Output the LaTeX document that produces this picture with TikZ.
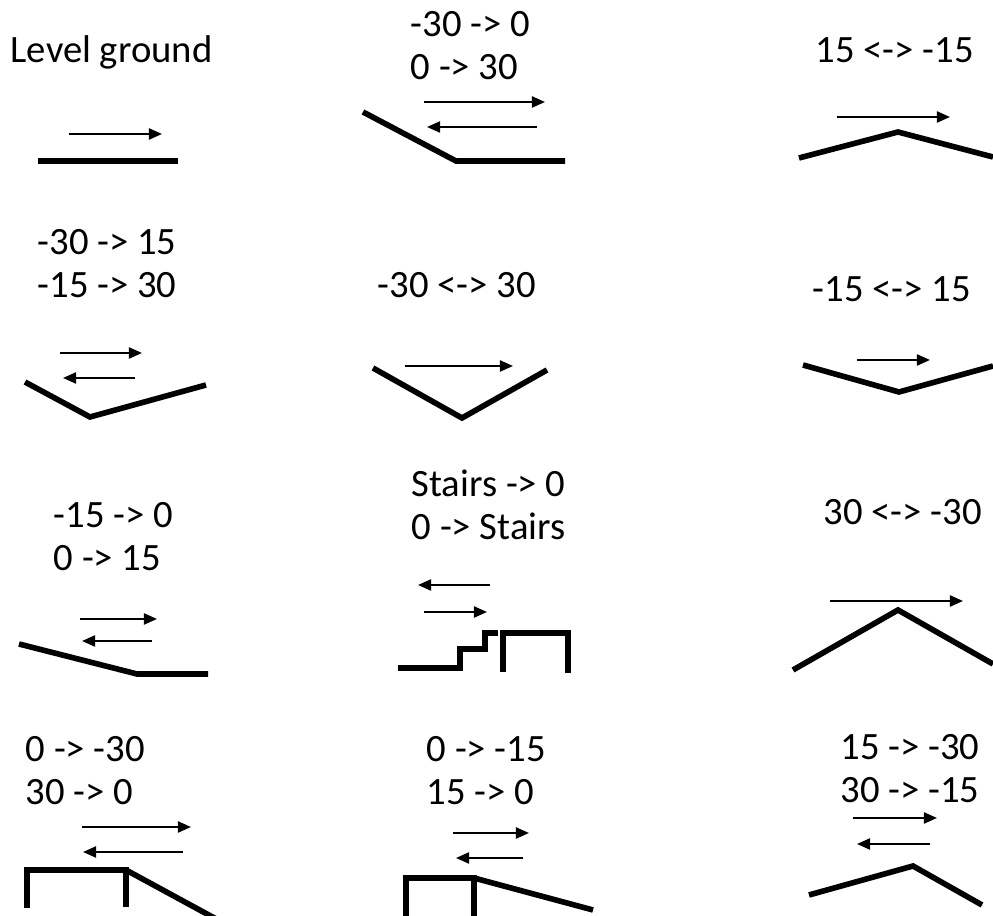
\documentclass[tikz,border=0pt]{standalone}
\usepackage{fontspec}
\setmainfont{Carlito}
\usetikzlibrary{arrows.meta}

\begin{document}
\begin{tikzpicture}[x=0.01cm, y=-0.01cm, >={Triangle[length=1.3mm, width=1.1mm]}, every node/.style={font=\fontsize{11}{12.5}\selectfont, inner sep=0pt, align=left, anchor=base west}, ground/.style={line width=1.6pt, line join=miter}, walk/.style={->, line width=0.6pt}]
  \useasboundingbox (0,0) rectangle (993,916);
  % first row
  \node (level) at (10,63) {Level ground};
  \draw[walk] (69,134) -- (162,134);
  \draw[ground] (38,161) -- (178,161);
  \node (down30) at (410,80) {-30 -> 0\\0 -> 30};
  \draw[walk] (424,102) -- (545,102);
  \draw[walk] (537,127) -- (427,127);
  \draw[ground] (363,112) -- (456,161) -- (565,161);
  \node (peak15) at (815,63) {15 <-> -15};
  \draw[walk] (837,117) -- (950,117);
  \draw[ground] (799,158) -- (898,132) -- (993,157);
  % second row
  \node (valley3015) at (37,298) {-30 -> 15\\-15 -> 30};
  \draw[walk] (60,353) -- (142,353);
  \draw[walk] (135,378) -- (63,378);
  \draw[ground] (25,382) -- (90,417) -- (206,385);
  \node (valley30) at (377,298) {-30 <-> 30};
  \draw[walk] (405,366) -- (513,366);
  \draw[ground] (373,368) -- (462,418) -- (547,370);
  \node (valley15) at (812,302) {-15 <-> 15};
  \draw[walk] (857,360) -- (930,360);
  \draw[ground] (803,365) -- (899,392) -- (993,366);
  % third row
  \node (down15) at (53,571) {-15 -> 0\\0 -> 15};
  \draw[walk] (80,619) -- (157,619);
  \draw[walk] (152,641) -- (82,641);
  \draw[ground] (19,644) -- (137,674) -- (208,674);
  \node (stairs) at (411,540) {Stairs -> 0\\0 -> Stairs};
  \draw[walk] (490,585) -- (418,585);
  \draw[walk] (424,612) -- (487,612);
  \draw[ground] (398,668) -- (460,668) -- (460,649) -- (485,649) -- (485,633) -- (498,633);
  \draw[ground] (503,672) -- (503,633) -- (568,633) -- (568,673);
  \node (peak30) at (823,525) {30 <-> -30};
  \draw[walk] (830,601) -- (963,601);
  \draw[ground] (793,670) -- (898,610) -- (993,664);
  % fourth row
  \node (step30) at (25,805) {0 -> -30\\30 -> 0};
  \draw[walk] (82,827) -- (191,827);
  \draw[walk] (183,852) -- (83,852);
  \draw[ground] (27,908) -- (27,870) -- (126,870) -- (126,907);
  \draw[ground] (126,870) -- (218,920);
  \node (step15) at (426,805) {0 -> -15\\15 -> 0};
  \draw[walk] (453,833) -- (529,833);
  \draw[walk] (523,858) -- (456,858);
  \draw[ground] (406,920) -- (406,878) -- (474,878) -- (474,920);
  \draw[ground] (474,878) -- (593,910);
  \node (peak1530) at (840,803) {15 -> -30\\30 -> -15};
  \draw[walk] (853,818) -- (937,818);
  \draw[walk] (930,844) -- (857,844);
  \draw[ground] (809,895) -- (913,866) -- (982,905);
\end{tikzpicture}
\end{document}
